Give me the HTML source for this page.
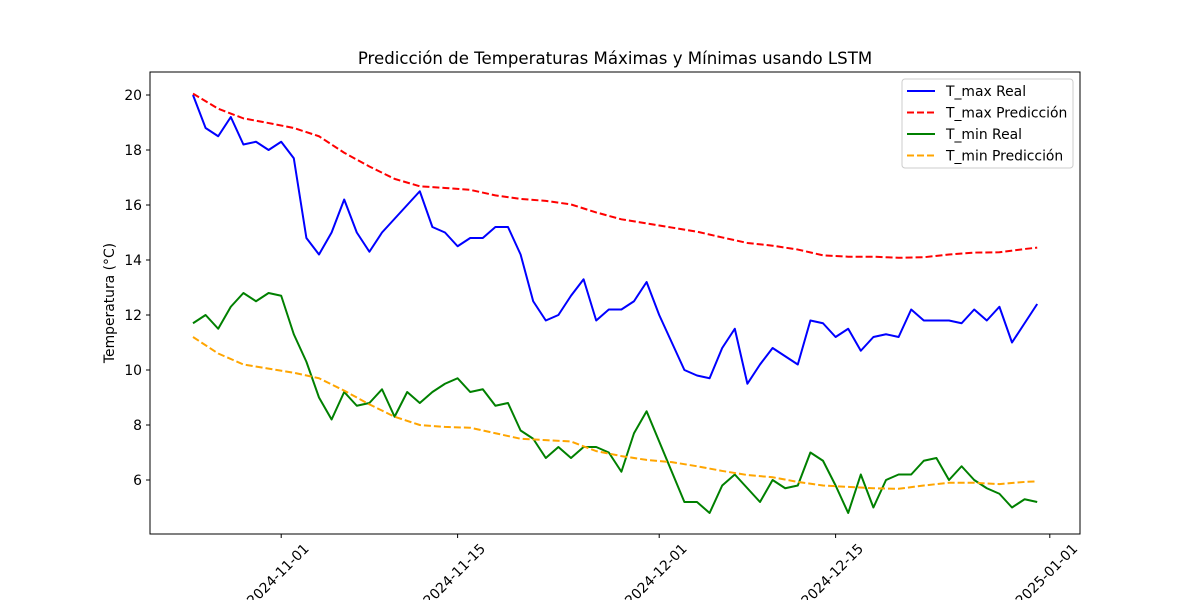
<!DOCTYPE html>
<html><head><meta charset="utf-8"><style>
body{margin:0;background:#fff;font-family:"Liberation Sans","DejaVu Sans",sans-serif}
svg text{font-family:"DejaVu Sans","Liberation Sans",sans-serif}
</style></head><body>
<svg id="chart" width="1200" height="600" viewBox="0 0 1200 600"></svg>
<script>
const tmaxDays=[0,1,2,3,4,5,6,7,8,9,10,11,12,13,14,15,16,17,18,19,20,21,22,23,24,25,26,27,28,29,30,31,32,33,34,35,36,37,38,39,40,41,42,43,44,45,46,47,48,49,50,51,52,53,54,55,56,57,58,59,60,61,62,63,64,65,66,67];
const tmaxReal=[20.0,18.8,18.5,19.2,18.2,18.3,18.0,18.3,17.7,14.8,14.2,15.0,16.2,15.0,14.3,15.0,15.5,16.0,16.5,15.2,15.0,14.5,14.8,14.8,15.2,15.2,14.2,12.5,11.8,12.0,12.7,13.3,11.8,12.2,12.2,12.5,13.2,12.0,11.0,10.0,9.8,9.7,10.8,11.5,9.5,10.2,10.8,10.5,10.2,11.8,11.7,11.2,11.5,10.7,11.2,11.3,11.2,12.2,11.8,11.8,11.8,11.7,12.2,11.8,12.3,11.0,11.7,12.4];
const tminReal=[11.7,12.0,11.5,12.3,12.8,12.5,12.8,12.7,11.3,10.3,9.0,8.2,9.2,8.7,8.8,9.3,8.3,9.2,8.8,9.2,9.5,9.7,9.2,9.3,8.7,8.8,7.8,7.5,6.8,7.2,6.8,7.2,7.2,7.0,6.3,7.7,8.5,7.4,6.3,5.2,5.2,4.8,5.8,6.2,5.7,5.2,6.0,5.7,5.8,7.0,6.7,5.8,4.8,6.2,5.0,6.0,6.2,6.2,6.7,6.8,6.0,6.5,6.0,5.7,5.5,5.0,5.3,5.2];
const predDays=[0,2,4,6,8,10,12,14,16,18,20,22,24,26,28,30,32,34,36,38,40,42,44,46,48,50,52,54,56,58,60,62,64,66,67];
const tmaxPred=[20.05,19.5,19.15,18.98,18.8,18.5,17.9,17.4,16.95,16.68,16.62,16.55,16.35,16.22,16.15,16.02,15.73,15.48,15.33,15.18,15.03,14.82,14.62,14.52,14.38,14.17,14.12,14.12,14.08,14.1,14.2,14.27,14.28,14.4,14.45];
const tminPred=[11.2,10.6,10.2,10.05,9.9,9.7,9.25,8.75,8.3,8.0,7.93,7.9,7.7,7.5,7.45,7.4,7.05,6.87,6.73,6.65,6.5,6.33,6.18,6.1,5.93,5.8,5.75,5.7,5.68,5.8,5.9,5.9,5.85,5.93,5.95];
const yTicks=[6,8,10,12,14,16,18,20];
const xTickDays=[7,21,37,51,68];
const xTickLabels=["2024-11-01","2024-11-15","2024-12-01","2024-12-15","2025-01-01"];

const NS="http://www.w3.org/2000/svg";
const svg=document.getElementById('chart');
const L=150,R=1080,T=72,B=534;
function xs(d){return 193+d*12.6;}
function ys(v){return 480-(v-6)*27.5;}
function mk(tag,attrs,parent){const e=document.createElementNS(NS,tag);for(const k in attrs)e.setAttribute(k,attrs[k]);(parent||svg).appendChild(e);return e;}

const title=mk('text',{x:615,y:64,'text-anchor':'middle','font-size':16.6,fill:'#000'});
title.textContent='Predicción de Temperaturas Máximas y Mínimas usando LSTM';



const frame=mk('rect',{x:L,y:T,width:R-L,height:B-T,fill:'none',stroke:'#000','stroke-width':1});



yTicks.forEach(v=>{
  const y=ys(v);
  mk('line',{x1:L-4,x2:L,y1:y,y2:y,stroke:'#000'});
  const t=mk('text',{x:L-8,y:y+5,'text-anchor':'end','font-size':13.9});
  t.textContent=v;
  
  
});
xTickDays.forEach((d,i)=>{
  const x=xs(d);
  mk('line',{x1:x,x2:x,y1:B,y2:B+4,stroke:'#000'});
  const t=mk('text',{x:0,y:0,'text-anchor':'middle','font-size':13.9,transform:`translate(${x},${B+44}) rotate(-45)`});
  t.textContent=xTickLabels[i];
  
  
});
const yl=mk('text',{x:0,y:0,'text-anchor':'middle','font-size':13.9,transform:`translate(114,${(T+B)/2}) rotate(-90)`});
yl.textContent='Temperatura (°C)';



function series(days,vals,color,dash,name){
  const p=mk('polyline',{points:days.map((d,i)=>xs(d)+','+ys(vals[i])).join(' '),fill:'none',stroke:color,'stroke-width':2,'stroke-dasharray':dash||'none','stroke-linejoin':'round'});
  
  
}
series(tmaxDays,tmaxReal,'#0000ff','', 'tmax-real-line');
series(predDays,tmaxPred,'#ff0000','7,3','tmax-pred-line');
series(tmaxDays,tminReal,'#008000','', 'tmin-real-line');
series(predDays,tminPred,'#ffa500','7,3','tmin-pred-line');

const lg=mk('g',{});


mk('rect',{x:902,y:79,width:171,height:89,rx:3,fill:'#fff',stroke:'#ccc'},lg);
[['T_max Real','#0000ff',''],['T_max Predicción','#ff0000','7,3'],['T_min Real','#008000',''],['T_min Predicción','#ffa500','7,3']].forEach((e,i)=>{
  const y=91+i*21.5;
  mk('line',{x1:907,x2:935,y1:y,y2:y,stroke:e[1],'stroke-width':2,'stroke-dasharray':e[2]||'none'},lg);
  const t=mk('text',{x:946,y:y+5,'font-size':13.9},lg);
  t.textContent=e[0];
  
  
});
</script>
</body></html>
